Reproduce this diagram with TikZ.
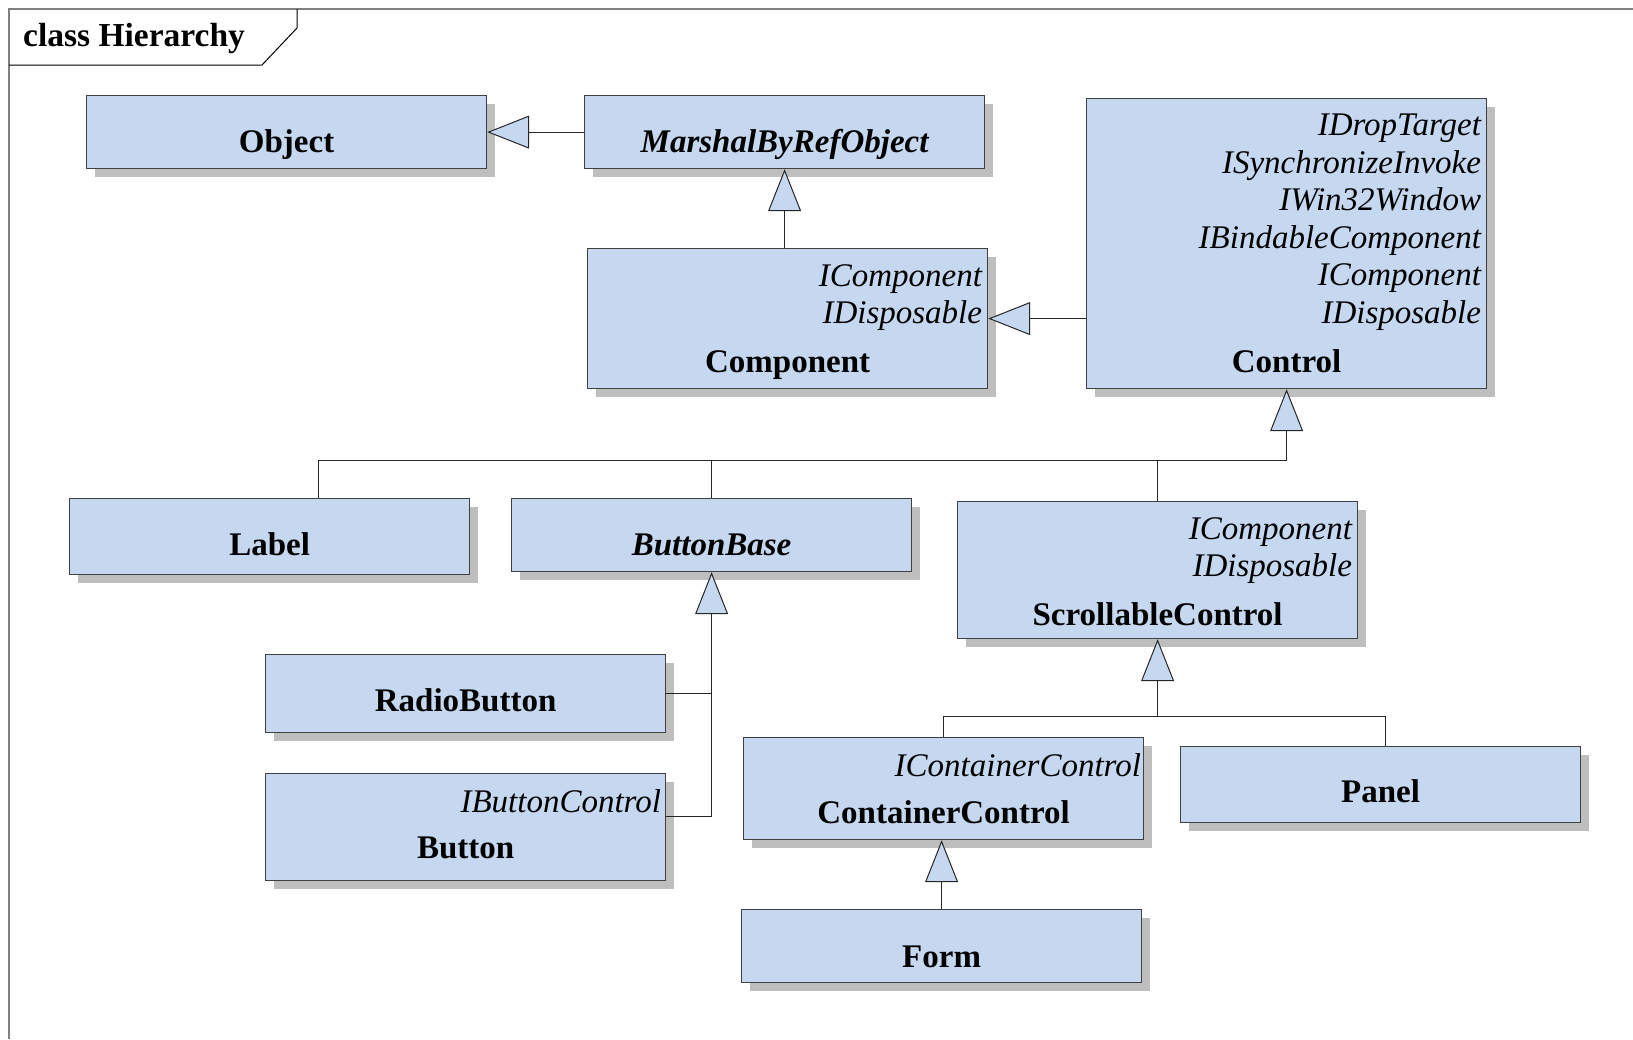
\documentclass[tikz,border=0pt]{standalone}
\usepackage{fontspec}
\setmainfont{Liberation Serif}
\usetikzlibrary{arrows.meta,positioning,calc,shadows}
\definecolor{boxblue}{RGB}{198,216,239}
\definecolor{boxline}{RGB}{64,64,64}
\definecolor{shade}{RGB}{190,190,190}
\definecolor{framegray}{RGB}{128,128,128}

\begin{document}
\begin{tikzpicture}[x=1pt,y=-1pt,
  cls/.style={draw=boxline,fill=boxblue,line width=1.2pt,anchor=north west,
    minimum width=400pt,inner sep=0pt,
    drop shadow={shadow xshift=8pt,shadow yshift=-8pt,fill=shade,opacity=1}},
  cname/.style={font=\fontsize{33}{37.5}\selectfont\bfseries,anchor=base,inner sep=0pt},
  aname/.style={cname,font=\fontsize{33}{37.5}\selectfont\bfseries\itshape},
  iface/.style={font=\fontsize{33}{37.5}\selectfont\itshape,align=right,
    anchor=north east,inner sep=0pt},
  conn/.style={line width=1pt,draw=black!85},
  inh/.style={conn,-{Triangle[length=42pt,width=33pt,fill=boxblue]}}]
\useasboundingbox (0,0) rectangle (1633,1039);

\draw[framegray,line width=2pt] (9,1039) -- (9,9) -- (1633,9);
\draw[line width=1pt] (9,65) -- (262,65) -- (297,28) -- (297,9);
\node[font=\fontsize{33.5}{36}\selectfont\bfseries,anchor=west,inner sep=0pt] (title) at (23,38) {class Hierarchy};

\node[cls,minimum height=73pt] (object) at (86,95) {};
\node[cls,minimum height=73pt] (marshal) at (584,95) {};
\node[cls,minimum height=140pt] (component) at (587,248) {};
\node[cls,minimum height=290pt] (control) at (1086,98) {};
\node[cls,minimum height=76pt] (label) at (69,498) {};
\node[cls,minimum height=73pt] (buttonbase) at (511,498) {};
\node[cls,minimum height=137pt] (scroll) at (957,501) {};
\node[cls,minimum height=78pt] (radio) at (265,654) {};
\node[cls,minimum height=107pt] (button) at (265,773) {};
\node[cls,minimum height=102pt] (container) at (743,737) {};
\node[cls,minimum height=76pt] (panel) at (1180,746) {};
\node[cls,minimum height=73pt] (form) at (741,909) {};

\node[cname] (objectname) at ($(object.south)+(0,-17)$) {Object};
\node[aname] (marshalname) at ($(marshal.south)+(0,-17)$) {MarshalByRefObject};
\node[cname] (componentname) at ($(component.south)+(0,-17)$) {Component};
\node[cname] (controlname) at ($(control.south)+(0,-17)$) {Control};
\node[cname] (labelname) at ($(label.south)+(0,-20)$) {Label};
\node[aname] (buttonbasename) at ($(buttonbase.south)+(0,-17)$) {ButtonBase};
\node[cname] (scrollname) at ($(scroll.south)+(0,-14)$) {ScrollableControl};
\node[cname] (radioname) at ($(radio.south)+(0,-22)$) {RadioButton};
\node[cname] (buttonname) at ($(button.south)+(0,-23)$) {Button};
\node[cname] (containername) at ($(container.south)+(0,-17)$) {ContainerControl};
\node[cname] (panelname) at ($(panel.south)+(0,-21)$) {Panel};
\node[cname] (formname) at ($(form.south)+(0,-16)$) {Form};

\node[iface] (componentif) at ($(component.north east)+(-6,16)$) {IComponent\\IDisposable};
\node[iface] (controlif) at ($(control.north east)+(-6,16)$)
  {IDropTarget\\ISynchronizeInvoke\\IWin32Window\\IBindableComponent\\IComponent\\IDisposable};
\node[iface] (scrollif) at ($(scroll.north east)+(-6,16)$) {IComponent\\IDisposable};
\node[iface] (buttonif) at ($(button.north east)+(-5,16)$) {IButtonControl};
\node[iface] (containerif) at ($(container.north east)+(-3,16)$) {IContainerControl};

\draw[inh] (marshal) -- (object);
\draw[inh] (component.north -| marshal.south) -- (marshal.south);
\draw[inh] (control.west |- component.east) -- (component.east);

\coordinate (ctrlbus) at (0,460);
\draw[inh] ($(label.north)+(49,0)$) |- (ctrlbus -| control.south) -- (control.south);
\draw[conn] (buttonbase.north) -- (buttonbase.north |- ctrlbus);
\draw[conn] (scroll.north) -- (scroll.north |- ctrlbus);

\draw[inh] (radio.east) -| (buttonbase.south);
\draw[conn] ($(button.east)+(0,-11)$) -| (radio.east -| buttonbase.south);

\coordinate (scrbus) at (0,716);
\draw[inh] (container.north) |- (scrbus -| scroll.south) -- (scroll.south);
\draw[conn] ($(panel.north)+(5,0)$) |- (scrbus -| scroll.south);

\draw[inh] (form.north) -- (form.north |- container.south);
\end{tikzpicture}
\end{document}
